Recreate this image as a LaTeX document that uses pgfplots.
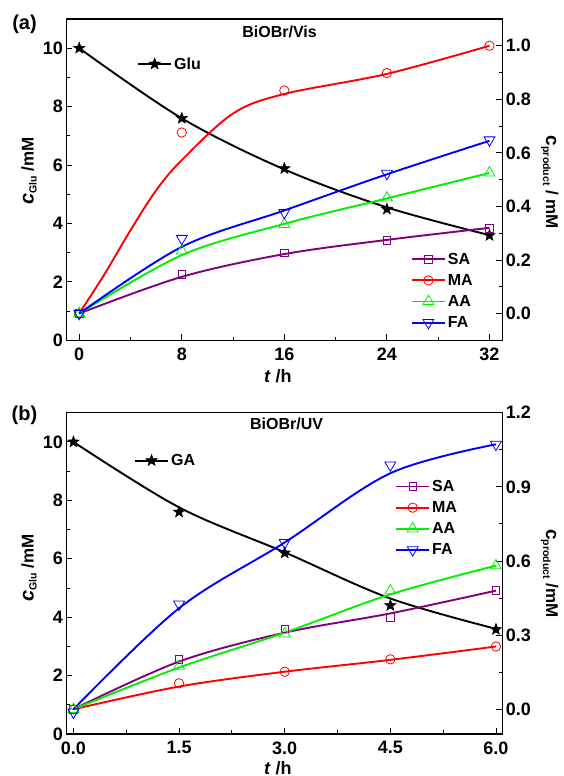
\documentclass[border=0pt]{standalone}
\usepackage{fontspec}
\setmainfont{Liberation Sans}
\usepackage{pgfplots}
\usepackage{pgfplotstable}
\pgfplotsset{compat=1.18}

\definecolor{opurple}{RGB}{128,0,128}
\definecolor{ored}{RGB}{255,0,0}
\definecolor{ogreen}{RGB}{0,240,0}
\definecolor{oblue}{RGB}{0,0,255}

\newcommand{\lfont}{\fontsize{17}{19}\selectfont\bfseries}

\pgfdeclareplotmark{fstar}{%
 \pgfpathmoveto{\pgfpointpolar{90}{\pgfplotmarksize}}%
 \pgfpathlineto{\pgfpointpolar{126}{0.42\pgfplotmarksize}}%
 \pgfpathlineto{\pgfpointpolar{162}{\pgfplotmarksize}}%
 \pgfpathlineto{\pgfpointpolar{198}{0.42\pgfplotmarksize}}%
 \pgfpathlineto{\pgfpointpolar{234}{\pgfplotmarksize}}%
 \pgfpathlineto{\pgfpointpolar{270}{0.42\pgfplotmarksize}}%
 \pgfpathlineto{\pgfpointpolar{306}{\pgfplotmarksize}}%
 \pgfpathlineto{\pgfpointpolar{342}{0.42\pgfplotmarksize}}%
 \pgfpathlineto{\pgfpointpolar{18}{\pgfplotmarksize}}%
 \pgfpathlineto{\pgfpointpolar{54}{0.42\pgfplotmarksize}}%
 \pgfpathclose\pgfusepathqfillstroke}

% ---------- panel (a) data: products in right-axis units ----------
\pgfplotstableread{
x SA MA AA FA
0 0.0 0.0 0.0 0.0
8 0.146 0.676 0.234 0.28
16 0.226 0.833 0.333 0.377
24 0.274 0.898 0.432 0.523
32 0.318 1.0 0.525 0.648
}\topdata
\pgfplotstableread{
x SA AA FA
0 0.0 0.0 0.0
8 0.137 0.218 0.249
16 0.222 0.335 0.385
24 0.275 0.43 0.52
32 0.32 0.525 0.645
}\topcurve
\pgfplotstableread{
x MA
0 0.0
2 0.149
4 0.311
6 0.46
8 0.573
12 0.747
16 0.82
24 0.895
32 1.0
}\topmacurve
\pgfplotstableread{
x Glu
0 10
8 7.6
16 5.88
24 4.49
32 3.59
}\topglu
\pgfplotstableread{
x Glu
0 10
8 7.6
16 5.85
24 4.55
32 3.6
}\topglucurve

% ---------- panel (b) data ----------
\pgfplotstableread{
x SA MA AA FA
0 0.0 0.0 0.0 -0.012
1.5 0.202 0.105 0.175 0.425
3 0.325 0.152 0.305 0.674
4.5 0.371 0.202 0.48 0.988
6 0.48 0.254 0.581 1.072
}\botdata
\pgfplotstableread{
x SA MA AA FA
0 0.0 0.0 0.0 0.0
1.5 0.193 0.092 0.169 0.409
3 0.31 0.152 0.31 0.675
4.5 0.388 0.2 0.465 0.955
6 0.48 0.254 0.581 1.072
}\botcurve
\pgfplotstableread{
x Glu
0 10
1.5 7.6
3 6.2
4.5 4.4
6 3.58
}\botglu
\pgfplotstableread{
x Glu
0 10
1.5 7.76
3 6.22
4.5 4.64
6 3.6
}\botglucurve

\pgfplotsset{
  base/.style={
    scale only axis, width=435.9pt, height=321.3pt,
    axis line style={line width=1.1pt},
    tick style={line width=0.9pt, black},
    major tick length=6pt, minor tick length=3.5pt,
    tick align=inside, minor tick num=1,
    ticklabel style={font=\fontsize{18}{20}\selectfont\bfseries},
    xticklabel style={yshift=-4pt},
    /pgf/number format/assume math mode=true,
    legend style={draw=none, fill=none, font=\fontsize{16}{18}\selectfont\bfseries,
      inner sep=0pt, row sep=4.6pt, legend cell align=left},
  },
  lgimg/.style={legend image code/.code={\draw[mark repeat=2,mark phase=2,##1] plot coordinates {(0pt,0pt) (16.5pt,0pt) (33pt,0pt)};}},
  lsty/.style={line width=1.9pt, smooth, tension=0.55, forget plot},
  msq/.style={mark=square, mark size=3.8pt, mark options={fill=white, line width=0.8pt, solid}},
  mci/.style={mark=o, mark size=4.7pt, mark options={fill=white, line width=0.8pt, solid}},
  mtu/.style={mark=triangle, mark size=6.3pt, mark options={fill=white, line width=0.8pt, solid}},
  mtd/.style={mark=triangle, mark size=6.3pt, mark options={fill=white, line width=0.8pt, solid, rotate=180}},
  mst/.style={mark=fstar, mark size=6pt, mark options={fill=black, line width=0.5pt, solid}},
}

\begin{document}
\begin{tikzpicture}
\useasboundingbox (0pt,0pt) rectangle (564pt,776pt);

% ================= Panel (a) =================
\begin{axis}[base, at={(66.4pt,435.7pt)}, anchor=south west,
  xmin=-1, xmax=33, xtick={0,8,16,24,32},
  ymin=0, ymax=11, ytick={0,2,4,6,8,10},
  xtick pos=bottom, ytick pos=left,
  xlabel={\textit{t} /h},
  x label style={at={(axis description cs:0.485,0)}, anchor=center, yshift=-36pt, font=\fontsize{18}{20}\selectfont\bfseries},
  ylabel={{\fontsize{20}{22}\selectfont\textit{c}}\raisebox{-3pt}{\fontsize{10.5}{12}\selectfont Glu} /mM},
  y label style={at={(axis description cs:-0.086,0.527)}, anchor=center, font=\lfont},
  legend style={at={(axis description cs:0.162,0.86)}, anchor=west},
]
\addplot[black, lsty] table[x=x,y=Glu]{\topglucurve};
\addplot[black, only marks, mst, forget plot] table[x=x,y=Glu]{\topglu};
\addlegendimage{black, line width=1.9pt, mst, lgimg}
\addlegendentry{Glu}
\node[font=\fontsize{16}{18}\selectfont\bfseries] at (axis description cs:0.489,0.96) {BiOBr/Vis};
\end{axis}

\begin{axis}[base, at={(66.4pt,435.7pt)}, anchor=south west,
  xmin=-1, xmax=33, axis x line=none, axis y line*=right,
  ymin=-0.1, ymax=1.1, ytick={0,0.2,0.4,0.6,0.8,1.0},
  yticklabel style={/pgf/number format/.cd, fixed, fixed zerofill, precision=1},
  ylabel={{\fontsize{19}{22}\selectfont c}\raisebox{-3pt}{\fontsize{10.5}{12}\selectfont product} / mM},
  y label style={at={(axis description cs:1.109,0.491)}, anchor=center, rotate=180, font=\lfont},
  legend style={at={(axis description cs:0.79,0.279)}, anchor=north west},
]
\addplot[opurple, lsty] table[x=x,y=SA]{\topcurve};
\addplot[ored, lsty] table[x=x,y=MA]{\topmacurve};
\addplot[ogreen, lsty] table[x=x,y=AA]{\topcurve};
\addplot[oblue, lsty] table[x=x,y=FA]{\topcurve};
\addplot[opurple, only marks, msq, forget plot] table[x=x,y=SA]{\topdata};
\addplot[ored, only marks, mci, forget plot] table[x=x,y=MA]{\topdata};
\addplot[ogreen, only marks, mtu, forget plot] table[x=x,y=AA]{\topdata};
\addplot[oblue, only marks, mtd, forget plot] table[x=x,y=FA]{\topdata};
\addlegendimage{opurple, line width=1.9pt, msq, lgimg}
\addlegendentry{SA}
\addlegendimage{ored, line width=1.9pt, mci, lgimg}
\addlegendentry{MA}
\addlegendimage{ogreen, line width=1.9pt, mtu, lgimg}
\addlegendentry{AA}
\addlegendimage{oblue, line width=1.9pt, mtd, lgimg}
\addlegendentry{FA}
\end{axis}

% ================= Panel (b) =================
\begin{axis}[base, at={(66.4pt,42pt)}, anchor=south west,
  xmin=-0.1, xmax=6.09, xtick={0,1.5,3,4.5,6},
  xticklabel style={/pgf/number format/.cd, fixed, fixed zerofill, precision=1},
  ymin=0, ymax=11, ytick={0,2,4,6,8,10},
  xtick pos=bottom, ytick pos=left,
  xlabel={\textit{t} /h},
  x label style={at={(axis description cs:0.485,0)}, anchor=center, yshift=-34pt, font=\fontsize{18}{20}\selectfont\bfseries},
  ylabel={{\fontsize{20}{22}\selectfont\textit{c}}\raisebox{-3pt}{\fontsize{10.5}{12}\selectfont Glu} /mM},
  y label style={at={(axis description cs:-0.086,0.517)}, anchor=center, font=\lfont},
  legend style={at={(axis description cs:0.155,0.851)}, anchor=west},
]
\addplot[black, lsty] table[x=x,y=Glu]{\botglucurve};
\addplot[black, only marks, mst, forget plot] table[x=x,y=Glu]{\botglu};
\addlegendimage{black, line width=1.9pt, mst, lgimg}
\addlegendentry{GA}
\node[font=\fontsize{16}{18}\selectfont\bfseries] at (axis description cs:0.505,0.965) {BiOBr/UV};
\end{axis}

\begin{axis}[base, at={(66.4pt,42pt)}, anchor=south west,
  xmin=-0.1, xmax=6.09, axis x line=none, axis y line*=right,
  ymin=-0.1, ymax=1.2, ytick={0,0.3,0.6,0.9,1.2},
  yticklabel style={/pgf/number format/.cd, fixed, fixed zerofill, precision=1},
  ylabel={{\fontsize{19}{22}\selectfont c}\raisebox{-3pt}{\fontsize{10.5}{12}\selectfont product} /mM},
  y label style={at={(axis description cs:1.109,0.5)}, anchor=center, rotate=180, font=\lfont},
  legend style={at={(axis description cs:0.754,0.797)}, anchor=north west},
]
\addplot[opurple, lsty] table[x=x,y=SA]{\botcurve};
\addplot[ored, lsty] table[x=x,y=MA]{\botcurve};
\addplot[ogreen, lsty] table[x=x,y=AA]{\botcurve};
\addplot[oblue, lsty] table[x=x,y=FA]{\botcurve};
\addplot[opurple, only marks, msq, forget plot] table[x=x,y=SA]{\botdata};
\addplot[ored, only marks, mci, forget plot] table[x=x,y=MA]{\botdata};
\addplot[ogreen, only marks, mtu, forget plot] table[x=x,y=AA]{\botdata};
\addplot[oblue, only marks, mtd, forget plot] table[x=x,y=FA]{\botdata};
\addlegendimage{opurple, line width=1.9pt, msq, lgimg}
\addlegendentry{SA}
\addlegendimage{ored, line width=1.9pt, mci, lgimg}
\addlegendentry{MA}
\addlegendimage{ogreen, line width=1.9pt, mtu, lgimg}
\addlegendentry{AA}
\addlegendimage{oblue, line width=1.9pt, mtd, lgimg}
\addlegendentry{FA}
\end{axis}

\node[font=\fontsize{20}{22}\selectfont\bfseries] at (24.5pt,752pt) {(a)};
\node[font=\fontsize{20}{22}\selectfont\bfseries] at (24.5pt,361pt) {(b)};
\end{tikzpicture}
\end{document}
